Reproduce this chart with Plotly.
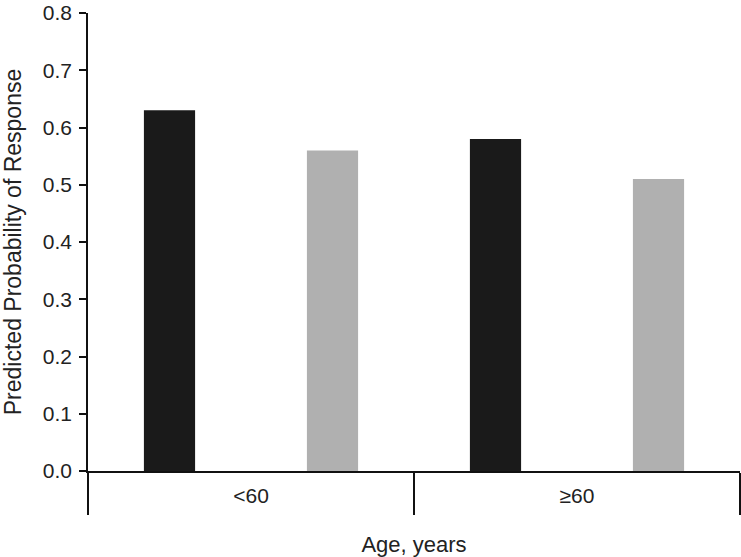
import plotly.graph_objects as go

# data
age_groups = ["<60", "≥60"]
series_a = [0.63, 0.58]   # black bars
series_b = [0.56, 0.51]   # grey bars

y_ticks = [0.0, 0.1, 0.2, 0.3, 0.4, 0.5, 0.6, 0.7, 0.8]
y_tick_text = [f"{v:.1f}" for v in y_ticks]

FONT = "Liberation Sans, Arial, sans-serif"
TEXT = "#222222"

fig = go.Figure()
fig.add_trace(go.Bar(x=age_groups, y=series_a, marker=dict(color="#1a1a1a", line=dict(width=0)), showlegend=False))
fig.add_trace(go.Bar(x=age_groups, y=series_b, marker=dict(color="#b0b0b0", line=dict(width=0)), showlegend=False))

fig.update_layout(
    width=741,
    height=557,
    margin=dict(l=88, r=1, t=13, b=86),
    paper_bgcolor="white",
    plot_bgcolor="white",
    barmode="group",
    bargap=0,
    bargroupgap=0.686,
    font=dict(family=FONT, size=21, color=TEXT),
)

fig.update_xaxes(
    type="category",
    range=[-0.5, 1.5],
    automargin=False,
    showline=True,
    linecolor="#111111",
    linewidth=1.5,
    ticks="outside",
    tickson="boundaries",
    ticklen=42,
    tickwidth=1.5,
    tickcolor="#111111",
    ticklabelstandoff=5,
    tickfont=dict(size=21, color=TEXT),
    showgrid=False,
    zeroline=False,
    title=dict(text="Age, years", font=dict(size=22, color=TEXT), standoff=32),
)

fig.update_yaxes(
    range=[0, 0.8],
    automargin=False,
    tickvals=y_ticks,
    ticktext=y_tick_text,
    showline=True,
    linecolor="#111111",
    linewidth=1.5,
    ticks="outside",
    ticklen=7,
    tickwidth=1.5,
    tickcolor="#111111",
    ticklabelstandoff=3,
    ticklabeloverflow="allow",
    tickfont=dict(size=21, color=TEXT),
    showgrid=False,
    zeroline=False,
    title=dict(text="Predicted Probability of Response", font=dict(size=23, color=TEXT), standoff=24),
)

# drop the default body margin so the figure fills the window
fig.write_html(
    "out.html",
    config={"displayModeBar": False},
    post_script="document.body.style.margin='0';",
)
